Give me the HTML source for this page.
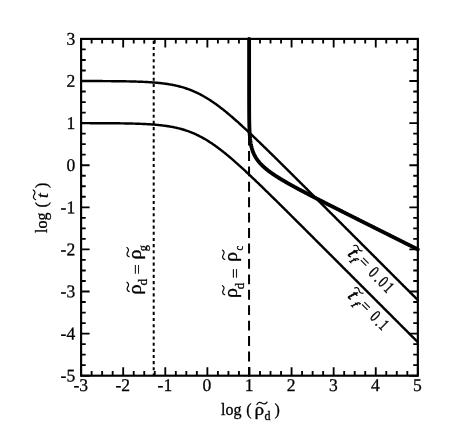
<!DOCTYPE html>
<html><head><meta charset="utf-8"><title>plot</title>
<style>
html,body{margin:0;padding:0;background:#fff;}
svg{display:block;will-change:transform;font-family:"Liberation Serif",serif;fill:#000;}
text{stroke:#000;stroke-width:0.3px;}
</style></head><body>
<svg width="450" height="444" viewBox="0 0 450 444">
<rect x="0" y="0" width="450" height="444" fill="#fff"/>
<g fill="none" stroke="#000">
<path d="M81.10,81.03 L81.94,81.03 L82.78,81.03 L83.63,81.03 L84.47,81.04 L85.31,81.04 L86.15,81.04 L86.99,81.04 L87.83,81.04 L88.68,81.04 L89.52,81.05 L90.36,81.05 L91.20,81.05 L92.04,81.05 L92.89,81.06 L93.73,81.06 L94.57,81.06 L95.41,81.06 L96.25,81.07 L97.10,81.07 L97.94,81.07 L98.78,81.08 L99.62,81.08 L100.46,81.08 L101.30,81.09 L102.15,81.09 L102.99,81.10 L103.83,81.10 L104.67,81.11 L105.51,81.11 L106.36,81.12 L107.20,81.12 L108.04,81.13 L108.88,81.13 L109.72,81.14 L110.57,81.15 L111.41,81.15 L112.25,81.16 L113.09,81.17 L113.93,81.18 L114.77,81.18 L115.62,81.19 L116.46,81.20 L117.30,81.21 L118.14,81.22 L118.98,81.23 L119.83,81.24 L120.67,81.25 L121.51,81.26 L122.35,81.28 L123.19,81.29 L124.04,81.30 L124.88,81.32 L125.72,81.33 L126.56,81.35 L127.40,81.36 L128.25,81.38 L129.09,81.40 L129.93,81.42 L130.77,81.44 L131.61,81.46 L132.45,81.48 L133.30,81.50 L134.14,81.52 L134.98,81.55 L135.82,81.57 L136.66,81.60 L137.51,81.63 L138.35,81.66 L139.19,81.69 L140.03,81.72 L140.87,81.75 L141.71,81.79 L142.56,81.82 L143.40,81.86 L144.24,81.90 L145.08,81.94 L145.92,81.99 L146.77,82.03 L147.61,82.08 L148.45,82.13 L149.29,82.18 L150.13,82.23 L150.98,82.29 L151.82,82.35 L152.66,82.41 L153.50,82.47 L154.34,82.54 L155.19,82.61 L156.03,82.68 L156.87,82.76 L157.71,82.84 L158.55,82.92 L159.39,83.00 L160.24,83.09 L161.08,83.19 L161.92,83.28 L162.76,83.38 L163.60,83.49 L164.45,83.60 L165.29,83.71 L166.13,83.83 L166.97,83.95 L167.81,84.08 L168.66,84.22 L169.50,84.35 L170.34,84.50 L171.18,84.65 L172.02,84.80 L172.86,84.96 L173.71,85.13 L174.55,85.30 L175.39,85.48 L176.23,85.67 L177.07,85.86 L177.92,86.06 L178.76,86.27 L179.60,86.49 L180.44,86.71 L181.28,86.94 L182.12,87.18 L182.97,87.42 L183.81,87.67 L184.65,87.94 L185.49,88.21 L186.33,88.48 L187.18,88.77 L188.02,89.07 L188.86,89.37 L189.70,89.69 L190.54,90.01 L191.39,90.34 L192.23,90.68 L193.07,91.03 L193.91,91.39 L194.75,91.76 L195.59,92.14 L196.44,92.53 L197.28,92.93 L198.12,93.34 L198.96,93.76 L199.80,94.19 L200.65,94.62 L201.49,95.07 L202.33,95.53 L203.17,95.99 L204.01,96.47 L204.86,96.95 L205.70,97.45 L206.54,97.95 L207.38,98.47 L208.22,98.99 L209.06,99.52 L209.91,100.06 L210.75,100.61 L211.59,101.17 L212.43,101.74 L213.27,102.31 L214.12,102.90 L214.96,103.49 L215.80,104.09 L216.64,104.70 L217.48,105.31 L218.33,105.93 L219.17,106.56 L220.01,107.20 L220.85,107.85 L221.69,108.50 L222.53,109.16 L223.38,109.82 L224.22,110.49 L225.06,111.17 L225.90,111.85 L226.74,112.54 L227.59,113.24 L228.43,113.94 L229.27,114.64 L230.11,115.35 L230.95,116.07 L231.80,116.79 L232.64,117.52 L233.48,118.25 L234.32,118.98 L235.16,119.72 L236.00,120.46 L236.85,121.21 L237.69,121.96 L238.53,122.71 L239.37,123.47 L240.21,124.23 L241.06,125.00 L241.90,125.76 L242.74,126.53 L243.58,127.31 L244.42,128.08 L245.27,128.86 L246.11,129.65 L246.95,130.43 L247.79,131.22 L248.63,132.01 L249.47,132.80 L250.32,133.59 L251.16,134.39 L252.00,135.18 L252.84,135.98 L253.68,136.78 L254.53,137.59 L255.37,138.39 L256.21,139.20 L257.05,140.01 L257.89,140.82 L258.74,141.63 L259.58,142.44 L260.42,143.25 L261.26,144.07 L262.10,144.88 L262.94,145.70 L263.79,146.52 L264.63,147.34 L265.47,148.16 L266.31,148.98 L267.15,149.80 L268.00,150.62 L268.84,151.45 L269.68,152.27 L270.52,153.10 L271.36,153.92 L272.21,154.75 L273.05,155.58 L273.89,156.40 L274.73,157.23 L275.57,158.06 L276.41,158.89 L277.26,159.72 L278.10,160.55 L278.94,161.39 L279.78,162.22 L280.62,163.05 L281.47,163.88 L282.31,164.72 L283.15,165.55 L283.99,166.38 L284.83,167.22 L285.68,168.05 L286.52,168.89 L287.36,169.72 L288.20,170.56 L289.04,171.39 L289.88,172.23 L290.73,173.07 L291.57,173.90 L292.41,174.74 L293.25,175.58 L294.09,176.41 L294.94,177.25 L295.78,178.09 L296.62,178.93 L297.46,179.77 L298.30,180.60 L299.15,181.44 L299.99,182.28 L300.83,183.12 L301.67,183.96 L302.51,184.80 L303.36,185.64 L304.20,186.48 L305.04,187.32 L305.88,188.15 L306.72,188.99 L307.56,189.83 L308.41,190.67 L309.25,191.51 L310.09,192.35 L310.93,193.19 L311.77,194.03 L312.62,194.87 L313.46,195.71 L314.30,196.56 L315.14,197.40 L315.98,198.24 L316.82,199.08 L317.67,199.92 L318.51,200.76 L319.35,201.60 L320.19,202.44 L321.03,203.28 L321.88,204.12 L322.72,204.96 L323.56,205.80 L324.40,206.65 L325.24,207.49 L326.09,208.33 L326.93,209.17 L327.77,210.01 L328.61,210.85 L329.45,211.69 L330.29,212.53 L331.14,213.38 L331.98,214.22 L332.82,215.06 L333.66,215.90 L334.50,216.74 L335.35,217.58 L336.19,218.42 L337.03,219.27 L337.87,220.11 L338.71,220.95 L339.56,221.79 L340.40,222.63 L341.24,223.47 L342.08,224.32 L342.92,225.16 L343.76,226.00 L344.61,226.84 L345.45,227.68 L346.29,228.52 L347.13,229.37 L347.97,230.21 L348.82,231.05 L349.66,231.89 L350.50,232.73 L351.34,233.57 L352.18,234.42 L353.03,235.26 L353.87,236.10 L354.71,236.94 L355.55,237.78 L356.39,238.63 L357.24,239.47 L358.08,240.31 L358.92,241.15 L359.76,241.99 L360.60,242.84 L361.44,243.68 L362.29,244.52 L363.13,245.36 L363.97,246.20 L364.81,247.04 L365.65,247.89 L366.50,248.73 L367.34,249.57 L368.18,250.41 L369.02,251.25 L369.86,252.10 L370.71,252.94 L371.55,253.78 L372.39,254.62 L373.23,255.46 L374.07,256.31 L374.91,257.15 L375.76,257.99 L376.60,258.83 L377.44,259.67 L378.28,260.52 L379.12,261.36 L379.97,262.20 L380.81,263.04 L381.65,263.88 L382.49,264.73 L383.33,265.57 L384.17,266.41 L385.02,267.25 L385.86,268.09 L386.70,268.94 L387.54,269.78 L388.38,270.62 L389.23,271.46 L390.07,272.30 L390.91,273.14 L391.75,273.99 L392.59,274.83 L393.44,275.67 L394.28,276.51 L395.12,277.35 L395.96,278.20 L396.80,279.04 L397.64,279.88 L398.49,280.72 L399.33,281.56 L400.17,282.41 L401.01,283.25 L401.85,284.09 L402.70,284.93 L403.54,285.77 L404.38,286.62 L405.22,287.46 L406.06,288.30 L406.91,289.14 L407.75,289.98 L408.59,290.83 L409.43,291.67 L410.27,292.51 L411.12,293.35 L411.96,294.19 L412.80,295.04 L413.64,295.88 L414.48,296.72 L415.32,297.56 L416.17,298.40 L417.01,299.25 L417.85,300.09" stroke-width="2.45"/>
<path d="M81.10,123.13 L81.94,123.13 L82.78,123.13 L83.63,123.13 L84.47,123.14 L85.31,123.14 L86.15,123.14 L86.99,123.14 L87.83,123.14 L88.68,123.14 L89.52,123.15 L90.36,123.15 L91.20,123.15 L92.04,123.15 L92.89,123.16 L93.73,123.16 L94.57,123.16 L95.41,123.16 L96.25,123.17 L97.10,123.17 L97.94,123.17 L98.78,123.18 L99.62,123.18 L100.46,123.18 L101.30,123.19 L102.15,123.19 L102.99,123.20 L103.83,123.20 L104.67,123.21 L105.51,123.21 L106.36,123.22 L107.20,123.22 L108.04,123.23 L108.88,123.23 L109.72,123.24 L110.57,123.25 L111.41,123.25 L112.25,123.26 L113.09,123.27 L113.93,123.28 L114.77,123.28 L115.62,123.29 L116.46,123.30 L117.30,123.31 L118.14,123.32 L118.98,123.33 L119.83,123.34 L120.67,123.35 L121.51,123.36 L122.35,123.38 L123.19,123.39 L124.04,123.40 L124.88,123.42 L125.72,123.43 L126.56,123.45 L127.40,123.46 L128.25,123.48 L129.09,123.50 L129.93,123.52 L130.77,123.54 L131.61,123.56 L132.45,123.58 L133.30,123.60 L134.14,123.62 L134.98,123.65 L135.82,123.67 L136.66,123.70 L137.51,123.73 L138.35,123.76 L139.19,123.79 L140.03,123.82 L140.87,123.85 L141.71,123.89 L142.56,123.92 L143.40,123.96 L144.24,124.00 L145.08,124.04 L145.92,124.09 L146.77,124.13 L147.61,124.18 L148.45,124.23 L149.29,124.28 L150.13,124.33 L150.98,124.39 L151.82,124.45 L152.66,124.51 L153.50,124.57 L154.34,124.64 L155.19,124.71 L156.03,124.78 L156.87,124.86 L157.71,124.94 L158.55,125.02 L159.39,125.10 L160.24,125.19 L161.08,125.29 L161.92,125.38 L162.76,125.48 L163.60,125.59 L164.45,125.70 L165.29,125.81 L166.13,125.93 L166.97,126.05 L167.81,126.18 L168.66,126.32 L169.50,126.45 L170.34,126.60 L171.18,126.75 L172.02,126.90 L172.86,127.06 L173.71,127.23 L174.55,127.40 L175.39,127.58 L176.23,127.77 L177.07,127.96 L177.92,128.16 L178.76,128.37 L179.60,128.59 L180.44,128.81 L181.28,129.04 L182.12,129.28 L182.97,129.52 L183.81,129.77 L184.65,130.04 L185.49,130.31 L186.33,130.58 L187.18,130.87 L188.02,131.17 L188.86,131.47 L189.70,131.79 L190.54,132.11 L191.39,132.44 L192.23,132.78 L193.07,133.13 L193.91,133.49 L194.75,133.86 L195.59,134.24 L196.44,134.63 L197.28,135.03 L198.12,135.44 L198.96,135.86 L199.80,136.29 L200.65,136.72 L201.49,137.17 L202.33,137.63 L203.17,138.09 L204.01,138.57 L204.86,139.05 L205.70,139.55 L206.54,140.05 L207.38,140.57 L208.22,141.09 L209.06,141.62 L209.91,142.16 L210.75,142.71 L211.59,143.27 L212.43,143.84 L213.27,144.41 L214.12,145.00 L214.96,145.59 L215.80,146.19 L216.64,146.80 L217.48,147.41 L218.33,148.03 L219.17,148.66 L220.01,149.30 L220.85,149.95 L221.69,150.60 L222.53,151.26 L223.38,151.92 L224.22,152.59 L225.06,153.27 L225.90,153.95 L226.74,154.64 L227.59,155.34 L228.43,156.04 L229.27,156.74 L230.11,157.45 L230.95,158.17 L231.80,158.89 L232.64,159.62 L233.48,160.35 L234.32,161.08 L235.16,161.82 L236.00,162.56 L236.85,163.31 L237.69,164.06 L238.53,164.81 L239.37,165.57 L240.21,166.33 L241.06,167.10 L241.90,167.86 L242.74,168.63 L243.58,169.41 L244.42,170.18 L245.27,170.96 L246.11,171.75 L246.95,172.53 L247.79,173.32 L248.63,174.11 L249.47,174.90 L250.32,175.69 L251.16,176.49 L252.00,177.28 L252.84,178.08 L253.68,178.88 L254.53,179.69 L255.37,180.49 L256.21,181.30 L257.05,182.11 L257.89,182.92 L258.74,183.73 L259.58,184.54 L260.42,185.35 L261.26,186.17 L262.10,186.98 L262.94,187.80 L263.79,188.62 L264.63,189.44 L265.47,190.26 L266.31,191.08 L267.15,191.90 L268.00,192.72 L268.84,193.55 L269.68,194.37 L270.52,195.20 L271.36,196.02 L272.21,196.85 L273.05,197.68 L273.89,198.50 L274.73,199.33 L275.57,200.16 L276.41,200.99 L277.26,201.82 L278.10,202.65 L278.94,203.49 L279.78,204.32 L280.62,205.15 L281.47,205.98 L282.31,206.82 L283.15,207.65 L283.99,208.48 L284.83,209.32 L285.68,210.15 L286.52,210.99 L287.36,211.82 L288.20,212.66 L289.04,213.49 L289.88,214.33 L290.73,215.17 L291.57,216.00 L292.41,216.84 L293.25,217.68 L294.09,218.51 L294.94,219.35 L295.78,220.19 L296.62,221.03 L297.46,221.87 L298.30,222.70 L299.15,223.54 L299.99,224.38 L300.83,225.22 L301.67,226.06 L302.51,226.90 L303.36,227.74 L304.20,228.58 L305.04,229.42 L305.88,230.25 L306.72,231.09 L307.56,231.93 L308.41,232.77 L309.25,233.61 L310.09,234.45 L310.93,235.29 L311.77,236.13 L312.62,236.97 L313.46,237.81 L314.30,238.66 L315.14,239.50 L315.98,240.34 L316.82,241.18 L317.67,242.02 L318.51,242.86 L319.35,243.70 L320.19,244.54 L321.03,245.38 L321.88,246.22 L322.72,247.06 L323.56,247.90 L324.40,248.75 L325.24,249.59 L326.09,250.43 L326.93,251.27 L327.77,252.11 L328.61,252.95 L329.45,253.79 L330.29,254.63 L331.14,255.48 L331.98,256.32 L332.82,257.16 L333.66,258.00 L334.50,258.84 L335.35,259.68 L336.19,260.52 L337.03,261.37 L337.87,262.21 L338.71,263.05 L339.56,263.89 L340.40,264.73 L341.24,265.57 L342.08,266.42 L342.92,267.26 L343.76,268.10 L344.61,268.94 L345.45,269.78 L346.29,270.62 L347.13,271.47 L347.97,272.31 L348.82,273.15 L349.66,273.99 L350.50,274.83 L351.34,275.67 L352.18,276.52 L353.03,277.36 L353.87,278.20 L354.71,279.04 L355.55,279.88 L356.39,280.73 L357.24,281.57 L358.08,282.41 L358.92,283.25 L359.76,284.09 L360.60,284.94 L361.44,285.78 L362.29,286.62 L363.13,287.46 L363.97,288.30 L364.81,289.14 L365.65,289.99 L366.50,290.83 L367.34,291.67 L368.18,292.51 L369.02,293.35 L369.86,294.20 L370.71,295.04 L371.55,295.88 L372.39,296.72 L373.23,297.56 L374.07,298.41 L374.91,299.25 L375.76,300.09 L376.60,300.93 L377.44,301.77 L378.28,302.62 L379.12,303.46 L379.97,304.30 L380.81,305.14 L381.65,305.98 L382.49,306.83 L383.33,307.67 L384.17,308.51 L385.02,309.35 L385.86,310.19 L386.70,311.04 L387.54,311.88 L388.38,312.72 L389.23,313.56 L390.07,314.40 L390.91,315.24 L391.75,316.09 L392.59,316.93 L393.44,317.77 L394.28,318.61 L395.12,319.45 L395.96,320.30 L396.80,321.14 L397.64,321.98 L398.49,322.82 L399.33,323.66 L400.17,324.51 L401.01,325.35 L401.85,326.19 L402.70,327.03 L403.54,327.87 L404.38,328.72 L405.22,329.56 L406.06,330.40 L406.91,331.24 L407.75,332.08 L408.59,332.93 L409.43,333.77 L410.27,334.61 L411.12,335.45 L411.96,336.29 L412.80,337.14 L413.64,337.98 L414.48,338.82 L415.32,339.66 L416.17,340.50 L417.01,341.35 L417.85,342.19" stroke-width="2.45"/>
<path d="M153.7,38.9 V375.7" stroke-width="2" stroke-dasharray="3.1 3.06" stroke-dashoffset="-1.89"/>
<path d="M249.05,376.80 V38.9" stroke-width="2" stroke-dasharray="9.9 5.52"/>
<path d="M249.11,38.90 L249.11,39.32 L249.11,39.74 L249.11,40.16 L249.11,40.58 L249.11,41.00 L249.11,41.43 L249.11,41.85 L249.11,42.27 L249.11,42.69 L249.11,43.11 L249.11,43.53 L249.11,43.95 L249.11,44.37 L249.11,44.79 L249.11,45.21 L249.11,45.64 L249.11,46.06 L249.11,46.48 L249.11,46.90 L249.11,47.32 L249.11,47.74 L249.11,48.16 L249.11,48.58 L249.11,49.00 L249.11,49.42 L249.11,49.85 L249.11,50.27 L249.11,50.69 L249.11,51.11 L249.11,51.53 L249.11,51.95 L249.11,52.37 L249.11,52.79 L249.11,53.21 L249.11,53.64 L249.11,54.06 L249.11,54.48 L249.11,54.90 L249.11,55.32 L249.11,55.74 L249.11,56.16 L249.11,56.58 L249.11,57.00 L249.11,57.42 L249.11,57.85 L249.11,58.27 L249.11,58.69 L249.11,59.11 L249.11,59.53 L249.11,59.95 L249.11,60.37 L249.11,60.79 L249.11,61.21 L249.11,61.63 L249.11,62.05 L249.11,62.48 L249.11,62.90 L249.11,63.32 L249.11,63.74 L249.11,64.16 L249.11,64.58 L249.11,65.00 L249.11,65.42 L249.11,65.84 L249.11,66.27 L249.11,66.69 L249.11,67.11 L249.11,67.53 L249.11,67.95 L249.11,68.37 L249.11,68.79 L249.11,69.21 L249.11,69.63 L249.11,70.05 L249.11,70.47 L249.11,70.90 L249.11,71.32 L249.11,71.74 L249.11,72.16 L249.11,72.58 L249.11,73.00 L249.11,73.42 L249.11,73.84 L249.11,74.26 L249.11,74.69 L249.11,75.11 L249.11,75.53 L249.11,75.95 L249.11,76.37 L249.11,76.79 L249.11,77.21 L249.11,77.63 L249.11,78.05 L249.11,78.47 L249.11,78.90 L249.11,79.32 L249.11,79.74 L249.11,80.16 L249.11,80.58 L249.11,81.00 L249.11,81.42 L249.11,81.84 L249.11,82.26 L249.11,82.68 L249.11,83.11 L249.11,83.53 L249.11,83.95 L249.11,84.37 L249.11,84.79 L249.11,85.21 L249.11,85.63 L249.11,86.05 L249.11,86.47 L249.11,86.89 L249.11,87.31 L249.11,87.74 L249.11,88.16 L249.11,88.58 L249.11,89.00 L249.11,89.42 L249.11,89.84 L249.11,90.26 L249.11,90.68 L249.11,91.10 L249.11,91.53 L249.11,91.95 L249.11,92.37 L249.11,92.79 L249.11,93.21 L249.11,93.63 L249.11,94.05 L249.11,94.47 L249.11,94.89 L249.11,95.31 L249.12,95.74 L249.12,96.16 L249.12,96.58 L249.12,97.00 L249.12,97.42 L249.12,97.84 L249.12,98.26 L249.12,98.68 L249.12,99.10 L249.12,99.52 L249.12,99.94 L249.12,100.37 L249.12,100.79 L249.12,101.21 L249.12,101.63 L249.12,102.05 L249.13,102.47 L249.13,102.89 L249.13,103.31 L249.13,103.73 L249.13,104.16 L249.13,104.58 L249.13,105.00 L249.13,105.42 L249.13,105.84 L249.14,106.26 L249.14,106.68 L249.14,107.10 L249.14,107.52 L249.14,107.94 L249.14,108.37 L249.14,108.79 L249.15,109.21 L249.15,109.63 L249.15,110.05 L249.15,110.47 L249.15,110.89 L249.16,111.31 L249.16,111.73 L249.16,112.15 L249.16,112.57 L249.17,113.00 L249.17,113.42 L249.17,113.84 L249.18,114.26 L249.18,114.68 L249.18,115.10 L249.19,115.52 L249.19,115.94 L249.19,116.36 L249.20,116.78 L249.20,117.21 L249.21,117.63 L249.21,118.05 L249.22,118.47 L249.22,118.89 L249.23,119.31 L249.23,119.73 L249.24,120.15 L249.25,120.57 L249.25,121.00 L249.26,121.42 L249.27,121.84 L249.27,122.26 L249.28,122.68 L249.29,123.10 L249.30,123.52 L249.31,123.94 L249.32,124.36 L249.33,124.78 L249.34,125.20 L249.35,125.63 L249.36,126.05 L249.37,126.47 L249.39,126.89 L249.40,127.31 L249.41,127.73 L249.43,128.15 L249.44,128.57 L249.46,128.99 L249.47,129.41 L249.49,129.84 L249.51,130.26 L249.53,130.68 L249.55,131.10 L249.57,131.52 L249.59,131.94 L249.61,132.36 L249.64,132.78 L249.66,133.20 L249.69,133.62 L249.71,134.05 L249.74,134.47 L249.77,134.89 L249.80,135.31 L249.83,135.73 L249.87,136.15 L249.90,136.57 L249.94,136.99 L249.98,137.41 L250.02,137.84 L250.06,138.26 L250.10,138.68 L250.15,139.10 L250.20,139.52 L250.25,139.94 L250.30,140.36 L250.35,140.78 L250.41,141.20 L250.47,141.62 L250.53,142.05 L250.59,142.47 L250.66,142.89 L250.73,143.31 L250.81,143.73 L250.88,144.15 L250.96,144.57 L251.04,144.99 L251.13,145.41 L251.22,145.83 L251.31,146.26 L251.41,146.68 L251.51,147.10 L251.62,147.52 L251.73,147.94 L251.85,148.36 L251.97,148.78 L252.09,149.20 L252.22,149.62 L252.35,150.04 L252.49,150.47 L252.64,150.89 L252.79,151.31 L252.95,151.73 L253.11,152.15 L253.28,152.57 L253.45,152.99 L253.63,153.41 L253.82,153.83 L254.02,154.25 L254.22,154.68 L254.43,155.10 L254.64,155.52 L254.87,155.94 L255.10,156.36 L255.34,156.78 L255.58,157.20 L255.84,157.62 L256.10,158.04 L256.38,158.46 L256.66,158.89 L256.95,159.31 L257.24,159.73 L257.55,160.15 L257.87,160.57 L258.19,160.99 L258.53,161.41 L258.87,161.83 L259.22,162.25 L259.58,162.67 L259.96,163.09 L260.34,163.52 L260.73,163.94 L261.13,164.36 L261.54,164.78 L261.96,165.20 L262.39,165.62 L262.83,166.04 L263.28,166.46 L263.74,166.88 L264.21,167.31 L264.69,167.73 L265.17,168.15 L265.67,168.57 L266.18,168.99 L266.69,169.41 L267.22,169.83 L267.75,170.25 L268.29,170.67 L268.85,171.09 L269.41,171.52 L269.98,171.94 L270.55,172.36 L271.14,172.78 L271.73,173.20 L272.33,173.62 L272.94,174.04 L273.56,174.46 L274.18,174.88 L274.82,175.30 L275.46,175.73 L276.10,176.15 L276.75,176.57 L277.41,176.99 L278.08,177.41 L278.75,177.83 L279.43,178.25 L280.12,178.67 L280.81,179.09 L281.50,179.51 L282.20,179.94 L282.91,180.36 L283.62,180.78 L284.34,181.20 L285.06,181.62 L285.79,182.04 L286.52,182.46 L287.25,182.88 L287.99,183.30 L288.74,183.72 L289.48,184.15 L290.24,184.57 L290.99,184.99 L291.75,185.41 L292.51,185.83 L293.28,186.25 L294.04,186.67 L294.82,187.09 L295.59,187.51 L296.37,187.93 L297.15,188.36 L297.93,188.78 L298.71,189.20 L299.50,189.62 L300.29,190.04 L301.08,190.46 L301.88,190.88 L302.67,191.30 L303.47,191.72 L304.27,192.14 L305.07,192.56 L305.88,192.99 L306.68,193.41 L307.49,193.83 L308.29,194.25 L309.10,194.67 L309.92,195.09 L310.73,195.51 L311.54,195.93 L312.36,196.35 L313.17,196.78 L313.99,197.20 L314.81,197.62 L315.63,198.04 L316.45,198.46 L317.27,198.88 L318.09,199.30 L318.91,199.72 L319.74,200.14 L320.56,200.56 L321.39,200.99 L322.21,201.41 L323.04,201.83 L323.87,202.25 L324.70,202.67 L325.52,203.09 L326.35,203.51 L327.18,203.93 L328.01,204.35 L328.84,204.77 L329.68,205.20 L330.51,205.62 L331.34,206.04 L332.17,206.46 L333.01,206.88 L333.84,207.30 L334.67,207.72 L335.51,208.14 L336.34,208.56 L337.18,208.98 L338.01,209.41 L338.85,209.83 L339.68,210.25 L340.52,210.67 L341.36,211.09 L342.19,211.51 L343.03,211.93 L343.87,212.35 L344.70,212.77 L345.54,213.19 L346.38,213.62 L347.22,214.04 L348.05,214.46 L348.89,214.88 L349.73,215.30 L350.57,215.72 L351.41,216.14 L352.25,216.56 L353.09,216.98 L353.92,217.40 L354.76,217.83 L355.60,218.25 L356.44,218.67 L357.28,219.09 L358.12,219.51 L358.96,219.93 L359.80,220.35 L360.64,220.77 L361.48,221.19 L362.32,221.61 L363.16,222.04 L364.00,222.46 L364.84,222.88 L365.68,223.30 L366.52,223.72 L367.36,224.14 L368.20,224.56 L369.05,224.98 L369.89,225.40 L370.73,225.82 L371.57,226.25 L372.41,226.67 L373.25,227.09 L374.09,227.51 L374.93,227.93 L375.77,228.35 L376.61,228.77 L377.45,229.19 L378.30,229.61 L379.14,230.03 L379.98,230.46 L380.82,230.88 L381.66,231.30 L382.50,231.72 L383.34,232.14 L384.18,232.56 L385.03,232.98 L385.87,233.40 L386.71,233.82 L387.55,234.24 L388.39,234.67 L389.23,235.09 L390.07,235.51 L390.92,235.93 L391.76,236.35 L392.60,236.77 L393.44,237.19 L394.28,237.61 L395.12,238.03 L395.97,238.45 L396.81,238.88 L397.65,239.30 L398.49,239.72 L399.33,240.14 L400.17,240.56 L401.02,240.98 L401.86,241.40 L402.70,241.82 L403.54,242.24 L404.38,242.66 L405.22,243.09 L406.07,243.51 L406.91,243.93 L407.75,244.35 L408.59,244.77 L409.43,245.19 L410.27,245.61 L411.12,246.03 L411.96,246.45 L412.80,246.87 L413.64,247.30 L414.48,247.72 L415.32,248.14 L416.17,248.56 L417.01,248.98 L417.85,249.40 L417.85,249.40" stroke-width="3.85" stroke-linejoin="round" stroke-linecap="round"/>
<path d="M81.10,375.70 v-8.50 M81.10,38.90 v8.50 M81.10,375.70 h8.50 M417.85,375.70 h-8.50 M91.62,375.70 v-4.60 M91.62,38.90 v4.60 M81.10,365.18 h4.60 M417.85,365.18 h-4.60 M102.15,375.70 v-4.60 M102.15,38.90 v4.60 M81.10,354.65 h4.60 M417.85,354.65 h-4.60 M112.67,375.70 v-4.60 M112.67,38.90 v4.60 M81.10,344.12 h4.60 M417.85,344.12 h-4.60 M123.19,375.70 v-8.50 M123.19,38.90 v8.50 M81.10,333.60 h8.50 M417.85,333.60 h-8.50 M133.72,375.70 v-4.60 M133.72,38.90 v4.60 M81.10,323.07 h4.60 M417.85,323.07 h-4.60 M144.24,375.70 v-4.60 M144.24,38.90 v4.60 M81.10,312.55 h4.60 M417.85,312.55 h-4.60 M154.76,375.70 v-4.60 M154.76,38.90 v4.60 M81.10,302.02 h4.60 M417.85,302.02 h-4.60 M165.29,375.70 v-8.50 M165.29,38.90 v8.50 M81.10,291.50 h8.50 M417.85,291.50 h-8.50 M175.81,375.70 v-4.60 M175.81,38.90 v4.60 M81.10,280.98 h4.60 M417.85,280.98 h-4.60 M186.33,375.70 v-4.60 M186.33,38.90 v4.60 M81.10,270.45 h4.60 M417.85,270.45 h-4.60 M196.86,375.70 v-4.60 M196.86,38.90 v4.60 M81.10,259.93 h4.60 M417.85,259.93 h-4.60 M207.38,375.70 v-8.50 M207.38,38.90 v8.50 M81.10,249.40 h8.50 M417.85,249.40 h-8.50 M217.90,375.70 v-4.60 M217.90,38.90 v4.60 M81.10,238.88 h4.60 M417.85,238.88 h-4.60 M228.43,375.70 v-4.60 M228.43,38.90 v4.60 M81.10,228.35 h4.60 M417.85,228.35 h-4.60 M238.95,375.70 v-4.60 M238.95,38.90 v4.60 M81.10,217.83 h4.60 M417.85,217.83 h-4.60 M249.47,375.70 v-8.50 M249.47,38.90 v8.50 M81.10,207.30 h8.50 M417.85,207.30 h-8.50 M260.00,375.70 v-4.60 M260.00,38.90 v4.60 M81.10,196.78 h4.60 M417.85,196.78 h-4.60 M270.52,375.70 v-4.60 M270.52,38.90 v4.60 M81.10,186.25 h4.60 M417.85,186.25 h-4.60 M281.05,375.70 v-4.60 M281.05,38.90 v4.60 M81.10,175.73 h4.60 M417.85,175.73 h-4.60 M291.57,375.70 v-8.50 M291.57,38.90 v8.50 M81.10,165.20 h8.50 M417.85,165.20 h-8.50 M302.09,375.70 v-4.60 M302.09,38.90 v4.60 M81.10,154.68 h4.60 M417.85,154.68 h-4.60 M312.62,375.70 v-4.60 M312.62,38.90 v4.60 M81.10,144.15 h4.60 M417.85,144.15 h-4.60 M323.14,375.70 v-4.60 M323.14,38.90 v4.60 M81.10,133.62 h4.60 M417.85,133.62 h-4.60 M333.66,375.70 v-8.50 M333.66,38.90 v8.50 M81.10,123.10 h8.50 M417.85,123.10 h-8.50 M344.19,375.70 v-4.60 M344.19,38.90 v4.60 M81.10,112.57 h4.60 M417.85,112.57 h-4.60 M354.71,375.70 v-4.60 M354.71,38.90 v4.60 M81.10,102.05 h4.60 M417.85,102.05 h-4.60 M365.23,375.70 v-4.60 M365.23,38.90 v4.60 M81.10,91.53 h4.60 M417.85,91.53 h-4.60 M375.76,375.70 v-8.50 M375.76,38.90 v8.50 M81.10,81.00 h8.50 M417.85,81.00 h-8.50 M386.28,375.70 v-4.60 M386.28,38.90 v4.60 M81.10,70.47 h4.60 M417.85,70.47 h-4.60 M396.80,375.70 v-4.60 M396.80,38.90 v4.60 M81.10,59.95 h4.60 M417.85,59.95 h-4.60 M407.33,375.70 v-4.60 M407.33,38.90 v4.60 M81.10,49.42 h4.60 M417.85,49.42 h-4.60 M417.85,375.70 v-8.50 M417.85,38.90 v8.50 M81.10,38.90 h8.50 M417.85,38.90 h-8.50" stroke-width="1.85"/>
<rect x="81.1" y="38.9" width="336.75" height="336.80" stroke-width="2.15"/>
</g>
<g font-size="17.9"><text transform="translate(80.70,391.1) rotate(0.03) scale(0.98,1)" text-anchor="middle">-3</text><text transform="translate(122.79,391.1) rotate(0.03) scale(0.98,1)" text-anchor="middle">-2</text><text transform="translate(164.89,391.1) rotate(0.03) scale(0.98,1)" text-anchor="middle">-1</text><text transform="translate(206.98,391.1) rotate(0.03) scale(0.98,1)" text-anchor="middle">0</text><text transform="translate(249.07,391.1) rotate(0.03) scale(0.98,1)" text-anchor="middle">1</text><text transform="translate(291.17,391.1) rotate(0.03) scale(0.98,1)" text-anchor="middle">2</text><text transform="translate(333.26,391.1) rotate(0.03) scale(0.98,1)" text-anchor="middle">3</text><text transform="translate(375.36,391.1) rotate(0.03) scale(0.98,1)" text-anchor="middle">4</text><text transform="translate(417.45,391.1) rotate(0.03) scale(0.98,1)" text-anchor="middle">5</text><text transform="translate(75.2,381.55) rotate(0.03) scale(0.98,1)" text-anchor="end">-5</text><text transform="translate(75.2,339.45) rotate(0.03) scale(0.98,1)" text-anchor="end">-4</text><text transform="translate(75.2,297.35) rotate(0.03) scale(0.98,1)" text-anchor="end">-3</text><text transform="translate(75.2,255.25) rotate(0.03) scale(0.98,1)" text-anchor="end">-2</text><text transform="translate(75.2,213.15) rotate(0.03) scale(0.98,1)" text-anchor="end">-1</text><text transform="translate(75.2,171.05) rotate(0.03) scale(0.98,1)" text-anchor="end">0</text><text transform="translate(75.2,128.95) rotate(0.03) scale(0.98,1)" text-anchor="end">1</text><text transform="translate(75.2,86.85) rotate(0.03) scale(0.98,1)" text-anchor="end">2</text><text transform="translate(75.2,44.75) rotate(0.03) scale(0.98,1)" text-anchor="end">3</text></g>
<g font-size="16"><text x="221" y="415">log</text><text x="246.2" y="415">(</text><text transform="translate(254.56,415.00) scale(1.169,1)" font-size="16.5">ρ</text><text x="264.6" y="419.5" font-size="12">d</text><text x="274.4" y="415">)</text><path d="M0,0 C0.8,-2.2 2.6,-2.9 4.6,-1.6 C6.4,-0.4 8.2,-0.2 9.6,-2.4" transform="translate(256.90,404.70) scale(1.06)" fill="none" stroke="#000" stroke-width="1.08" stroke-linecap="round"/></g>
<g font-size="16" transform="translate(46.5,233) rotate(-90)"><text x="0" y="0">log</text><text x="25.6" y="0">(</text><text transform="translate(35.04,1.90) scale(0.990,1)" font-size="17.5" font-style="italic">t</text><text x="45" y="0">)</text><path d="M0,0 C0.8,-2.2 2.6,-2.9 4.6,-1.6 C6.4,-0.4 8.2,-0.2 9.6,-2.4" transform="translate(33.30,-10.80) scale(1.02)" fill="none" stroke="#000" stroke-width="1.13" stroke-linecap="round"/></g>
<g transform="translate(140.7,294) rotate(-90)"><text transform="translate(-0.76,0.00) scale(1.170,1)" font-size="18">ρ</text><text transform="translate(8.41,5.90) scale(1.125,1)" font-size="12">d</text><text transform="translate(19.49,1.10) scale(1.218,1)" font-size="15">=</text><text transform="translate(34.51,0.00) scale(1.114,1)" font-size="18">ρ</text><text transform="translate(42.87,6.00) scale(1.072,1)" font-size="11.5">g</text><path d="M0,0 C0.8,-2.2 2.6,-2.9 4.6,-1.6 C6.4,-0.4 8.2,-0.2 9.6,-2.4" transform="translate(2.40,-11.42) scale(0.9791666666666679)" fill="none" stroke="#000" stroke-width="1.17" stroke-linecap="round"/><path d="M0,0 C0.8,-2.2 2.6,-2.9 4.6,-1.6 C6.4,-0.4 8.2,-0.2 9.6,-2.4" transform="translate(37.30,-11.56) scale(0.9479166666666637)" fill="none" stroke="#000" stroke-width="1.21" stroke-linecap="round"/></g>
<g transform="translate(236.9,297) rotate(-90)"><text transform="translate(-0.89,0.00) scale(1.114,1)" font-size="18">ρ</text><text transform="translate(7.84,6.75) scale(1.052,1)" font-size="12">d</text><text transform="translate(18.83,3.70) scale(1.088,1)" font-size="16">=</text><text transform="translate(34.98,0.00) scale(1.135,1)" font-size="18">ρ</text><text transform="translate(46.50,5.80) scale(0.867,1)" font-size="12">c</text><path d="M0,0 C0.8,-2.2 2.6,-2.9 4.6,-1.6 C6.4,-0.4 8.2,-0.2 9.6,-2.4" transform="translate(2.30,-12.17) scale(0.9374999999999977)" fill="none" stroke="#000" stroke-width="1.23" stroke-linecap="round"/><path d="M0,0 C0.8,-2.2 2.6,-2.9 4.6,-1.6 C6.4,-0.4 8.2,-0.2 9.6,-2.4" transform="translate(37.50,-12.12) scale(0.9791666666666649)" fill="none" stroke="#000" stroke-width="1.17" stroke-linecap="round"/></g>
<g transform="translate(346.9,254.1) rotate(45)"><text transform="translate(0.07,0.03) skewX(-8) scale(1.000,1)" font-size="18" font-style="italic" style="stroke-width:0.7px">t</text><text transform="translate(6.10,3.40) skewX(-17) scale(1.000,1)" font-size="11.5" style="stroke-width:0.6px">f</text><text transform="translate(13.60,-1.90) scale(1.000,1)" font-size="16">=</text><text transform="translate(28.74,-0.80) scale(0.720,1)" font-size="17" style="stroke-width:0.45px">0</text><text transform="translate(37.30,-0.40) scale(0.800,1)" font-size="17">.</text><text transform="translate(42.24,-0.80) scale(0.720,1)" font-size="17" style="stroke-width:0.45px">0</text><text transform="translate(50.56,-0.60) scale(0.700,1)" font-size="17" style="stroke-width:0.45px">1</text><path d="M0,0 C0.8,-2.2 2.6,-2.9 4.6,-1.6 C6.4,-0.4 8.2,-0.2 9.6,-2.4" transform="translate(-1.10,-10.80) scale(1.0)" fill="none" stroke="#000" stroke-width="1.15" stroke-linecap="round"/></g>
<g transform="translate(347.1,296.35) rotate(45)"><text transform="translate(0.00,0.20) skewX(-8) scale(1.000,1)" font-size="18" font-style="italic" style="stroke-width:0.7px">t</text><text transform="translate(8.40,3.70) skewX(-17) scale(1.000,1)" font-size="11.5" style="stroke-width:0.6px">f</text><text transform="translate(15.50,-1.20) scale(1.000,1)" font-size="16">=</text><text transform="translate(30.79,-0.40) scale(0.720,1)" font-size="17" style="stroke-width:0.45px">0</text><text transform="translate(39.10,0.20) scale(0.800,1)" font-size="17">.</text><text transform="translate(43.41,-0.30) scale(0.700,1)" font-size="17" style="stroke-width:0.45px">1</text><path d="M0,0 C0.8,-2.2 2.6,-2.9 4.6,-1.6 C6.4,-0.4 8.2,-0.2 9.6,-2.4" transform="translate(-0.60,-11.20) scale(1.0)" fill="none" stroke="#000" stroke-width="1.15" stroke-linecap="round"/></g>
</svg>
</body></html>
